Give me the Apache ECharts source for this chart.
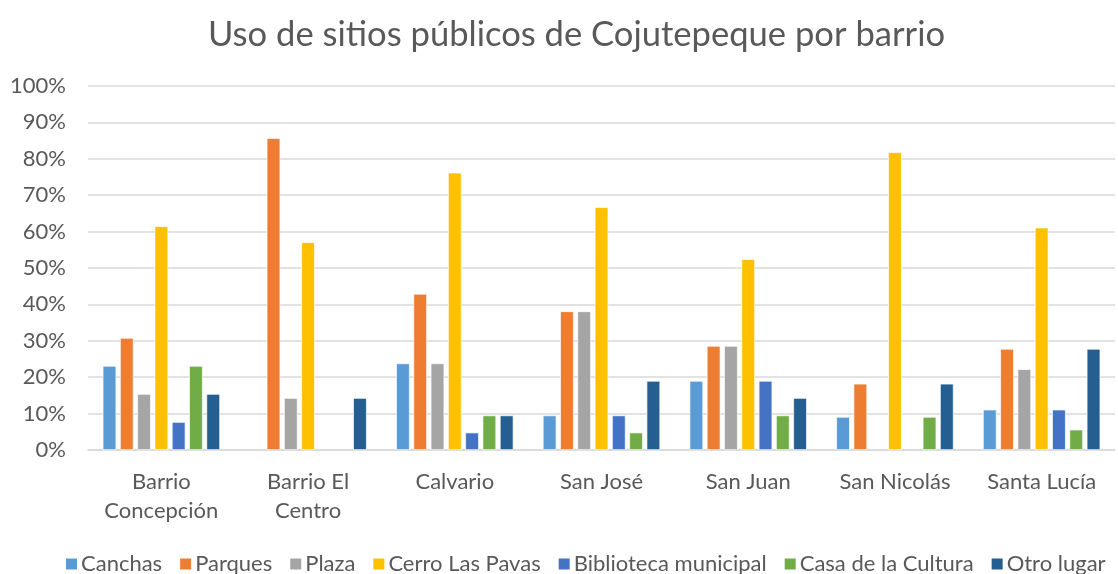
<!DOCTYPE html>
<html><head><meta charset="utf-8">
<script src="https://cdn.jsdelivr.net/npm/echarts@6/dist/echarts.min.js"></script>
<style>html,body{margin:0;padding:0;background:#fff}#c{width:1118px;height:574px}</style>
</head><body><div id="c"></div>
<script>
const categories = ['Barrio\nConcepción','Barrio El\nCentro','Calvario','San José','San Juan','San Nicolás','Santa Lucía'];
const seriesNames = ['Canchas','Parques','Plaza','Cerro Las Pavas','Biblioteca municipal','Casa de la Cultura','Otro lugar'];
const canchas     = [23.1, 0,    23.8, 9.5,  19.0, 9.1,  11.1];
const parques     = [30.8, 85.7, 42.9, 38.1, 28.6, 18.2, 27.8];
const plaza       = [15.4, 14.3, 23.8, 38.1, 28.6, 0,    22.2];
const cerro       = [61.5, 57.1, 76.2, 66.7, 52.4, 81.8, 61.1];
const biblioteca  = [7.7,  0,    4.8,  9.5,  19.0, 0,    11.1];
const casaCultura = [23.1, 0,    9.5,  4.8,  9.5,  9.1,  5.6];
const otroLugar   = [15.4, 14.3, 9.5,  19.0, 14.3, 18.2, 27.8];
const yTicks = [0,10,20,30,40,50,60,70,80,90,100];
const colors = ['#5B9BD5','#ED7D31','#A5A5A5','#FFC000','#4472C4','#70AD47','#255E91'];
const allData = [canchas, parques, plaza, cerro, biblioteca, casaCultura, otroLugar];

const FONT = 'Lato, "Open Sans", sans-serif';
const chart = echarts.init(document.getElementById('c'), null, {renderer:'canvas'});
chart.setOption({
  animation:false,
  color: colors,
  title:{text:'Uso de sitios públicos de Cojutepeque por barrio', left:203, top:12,
    textStyle:{fontFamily:FONT, fontSize:34.6, fontWeight:'normal', color:'#595959'}},
  grid:{left:88, right:3, top:86, bottom:124},
  legend:{bottom:-6, left:59, itemWidth:13, itemHeight:13, itemGap:16, icon:'rect',
    textStyle:{fontFamily:FONT, fontSize:22, color:'#595959', padding:[0,0,0,-2]}},
  xAxis:{type:'category', data:categories,
    axisLine:{lineStyle:{color:'#D9D9D9', width:1.5}}, axisTick:{show:false},
    axisLabel:{fontFamily:FONT, fontSize:22, color:'#595959', lineHeight:29, margin:17, interval:0}},
  yAxis:{type:'value', min:0, max:100, interval:10,
    axisLine:{show:false}, axisTick:{show:false},
    splitLine:{lineStyle:{color:'#D9D9D9', width:1.5}},
    axisLabel:{fontFamily:FONT, fontSize:22, color:'#595959', margin:22, formatter: v => v + '%'}},
  series: seriesNames.map((n,i)=>({name:n, type:'bar', data:allData[i].map(v=>v===0?null:v),
    barCategoryGap:'20%', barGap:'27%',
    itemStyle:{borderColor:'#ffffff', borderWidth:0.7}}))
});
</script></body></html>
